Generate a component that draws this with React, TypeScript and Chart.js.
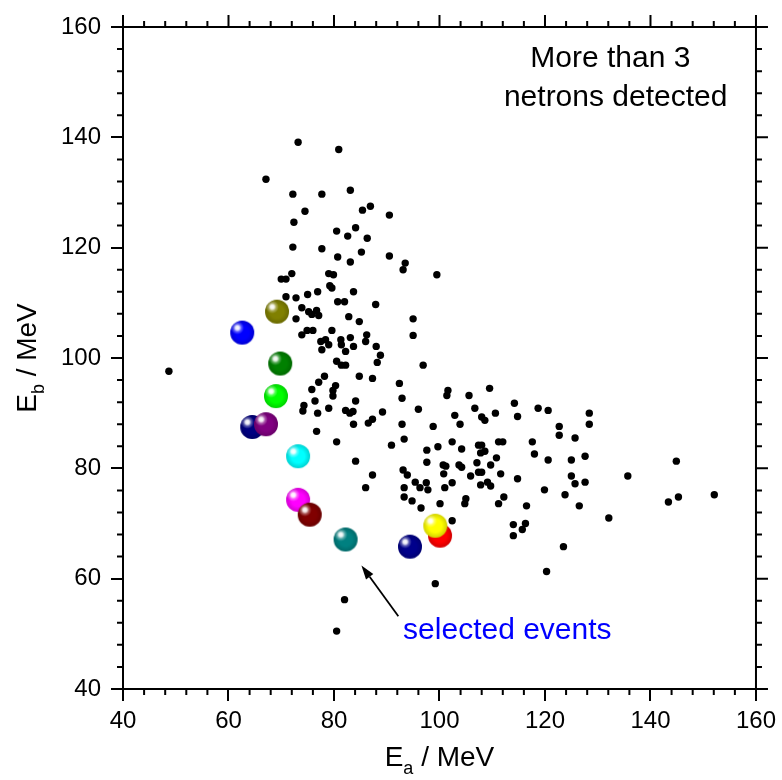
import React, { useEffect, useRef } from "react";
import { Chart, registerables } from "chart.js";

Chart.register(...registerables);

const FONT = "'Liberation Sans', Arial, Helvetica, sans-serif";

// Axis range / ticks (MeV)
const axisMin = 40;
const axisMax = 160;
const majorStep = 20;
const minorStep = 4;

// Black dots: events with more than 3 neutrons detected
const eventEa = [
  73.2, 80.9, 67.1, 72.2, 77.7, 83.1, 74.5, 85.4, 86.9, 90.5,
  72.4, 80.5, 84.1, 82.6, 86.3, 72.2, 77.7, 80.7, 85.2, 83.1,
  90.5, 93.5, 93.1, 72.0, 70.0, 70.9, 79.0, 79.9, 79.2, 79.6,
  70.9, 72.8, 75.0, 76.9, 83.7, 80.7, 82.0, 87.9, 73.9, 75.2,
  76.7, 75.8, 77.1, 72.8, 82.8, 95.0, 84.8, 73.9, 74.9, 76.0,
  79.6, 95.0, 86.2, 77.5, 78.4, 79.0, 77.7, 81.3, 81.4, 83.1,
  86.0, 83.7, 88.0, 82.2, 88.8, 88.2, 80.5, 81.4, 82.2, 96.9,
  78.2, 84.8, 87.3, 77.1, 92.4, 75.8, 80.3, 79.8, 79.8, 92.9,
  76.4, 74.3, 74.1, 76.9, 79.0, 84.1, 82.2, 83.0, 89.2, 96.0,
  83.7, 86.5, 87.3, 92.9, 76.7, 80.5, 90.9, 93.3, 97.6, 84.1,
  93.1, 93.9, 87.3, 97.6, 86.0, 93.3, 95.4, 96.3, 97.5, 101.6,
  101.4, 105.6, 109.5, 114.2, 114.8, 118.7, 120.6, 106.7, 110.6, 102.9,
  108.0, 108.6, 103.9, 98.8, 122.7, 122.7, 125.7, 102.4, 104.2, 99.7,
  107.4, 108.0, 111.2, 112.0, 117.6, 118.0, 107.8, 108.6, 110.8, 120.6,
  125.0, 100.7, 101.2, 103.7, 104.2, 107.1, 109.7, 100.8, 107.4, 108.0,
  111.6, 105.9, 114.8, 125.0, 125.7, 97.8, 102.4, 101.0, 107.8, 109.1,
  109.7, 93.3, 94.8, 96.5, 100.1, 105.0, 104.8, 111.2, 112.2, 119.9,
  123.8, 116.5, 102.4, 114.0, 116.3, 115.7, 114.0, 123.5, 120.3, 99.2,
  128.4, 128.4, 127.6, 127.6, 126.5, 132.1, 135.7, 144.9, 143.4, 145.3,
  152.1, 82.0, 80.5, 48.7, 99.5, 83.6
];
const eventEb = [
  139.1, 137.8, 132.4, 129.7, 129.7, 130.4, 126.6, 126.8, 127.5, 125.9,
  124.6, 123.0, 123.6, 122.1, 121.7, 120.1, 119.8, 118.3, 119.2, 117.4,
  118.5, 117.2, 116.0, 115.3, 114.3, 114.3, 115.3, 115.1, 113.1, 112.7,
  111.1, 110.9, 111.5, 112.0, 112.0, 110.2, 110.2, 109.7, 109.1, 108.4,
  108.6, 107.9, 107.7, 107.1, 107.5, 107.1, 106.6, 104.2, 105.0, 105.0,
  105.0, 104.1, 104.2, 103.0, 103.3, 102.4, 101.5, 103.3, 102.4, 103.7,
  103.0, 102.1, 102.1, 101.2, 100.5, 99.2, 99.4, 98.7, 98.7, 98.7,
  96.7, 96.7, 96.3, 95.6, 95.4, 94.3, 95.0, 94.1, 93.1, 92.7,
  92.2, 91.4, 90.4, 90.0, 90.9, 92.2, 90.5, 90.0, 90.2, 90.7,
  88.0, 88.2, 88.9, 88.0, 86.7, 84.8, 84.2, 85.3, 83.3, 81.3,
  79.7, 78.8, 78.8, 81.1, 76.5, 76.5, 77.5, 76.5, 77.4, 94.1,
  93.2, 93.2, 94.5, 91.8, 89.4, 90.9, 90.5, 90.9, 90.0, 89.6,
  89.3, 88.7, 88.0, 87.6, 87.6, 86.0, 85.5, 84.8, 83.5, 83.9,
  84.2, 84.2, 84.8, 84.8, 84.8, 82.6, 82.8, 83.1, 81.9, 81.5,
  81.5, 80.6, 80.4, 80.6, 80.2, 81.0, 80.6, 79.0, 79.3, 79.3,
  79.0, 78.6, 78.1, 78.6, 77.2, 76.1, 77.4, 76.5, 77.0, 77.5,
  76.8, 74.8, 74.1, 72.8, 73.6, 74.5, 73.6, 73.6, 74.8, 76.1,
  75.2, 73.2, 70.5, 69.8, 70.0, 68.9, 67.8, 65.8, 61.3, 59.1,
  90.0, 88.0, 82.2, 77.5, 73.2, 71.0, 78.6, 81.3, 73.9, 74.8,
  75.2, 56.2, 50.5, 97.6, 115.1, 90.3
];

// Coloured spheres: the selected events (drawing order: later on top)
const selEa = [62.6, 69.2, 69.8, 69.0, 64.5, 67.1, 73.2, 73.2, 75.4, 82.2, 94.4, 100.1, 99.2];
const selEb = [104.6, 108.4, 99.0, 93.1, 87.5, 88.0, 82.2, 74.3, 71.6, 67.1, 65.8, 67.8, 69.6];
const selColors = [
  "#0000ff", "#808000", "#008000", "#00ff00", "#000080", "#800080", "#00ffff",
  "#ff00ff", "#800000", "#008080", "#00008b", "#ff0000", "#ffff00",
];

// Annotations
const noteLines = ["More than 3", "netrons detected"];
const noteCenterEa = [132.4, 133.4];
const noteBaselineEb = [152.8, 145.7];
const arrowLabel = "selected events";
const arrowLabelPos = [93.1, 49.0];
const arrowTail = [92.2, 53.2];
const arrowTip = [85.2, 62.4];

const xTitle = ["E", "a", " / MeV"];
const yTitle = ["E", "b", " / MeV"];

function makeBall(color: string, r: number): HTMLCanvasElement {
  const size = 2 * r + 2;
  const c = document.createElement("canvas");
  c.width = size;
  c.height = size;
  const g = c.getContext("2d")!;
  const cx = size / 2;
  const cy = size / 2;
  g.beginPath();
  g.arc(cx, cy, r, 0, Math.PI * 2);
  g.fillStyle = color;
  g.fill();
  const rim = g.createRadialGradient(cx, cy, r * 0.55, cx, cy, r);
  rim.addColorStop(0, "rgba(0,0,0,0)");
  rim.addColorStop(1, "rgba(0,0,0,0.18)");
  g.fillStyle = rim;
  g.fill();
  const hx = cx - r * 0.4;
  const hy = cy - r * 0.4;
  const hl = g.createRadialGradient(hx, hy, 0, hx, hy, r * 0.55);
  hl.addColorStop(0, "rgba(255,255,255,1)");
  hl.addColorStop(0.3, "rgba(255,255,255,0.9)");
  hl.addColorStop(0.6, "rgba(255,255,255,0.35)");
  hl.addColorStop(1, "rgba(255,255,255,0)");
  g.fillStyle = hl;
  g.fill();
  return c;
}

function drawTitle(ctx: CanvasRenderingContext2D, parts: string[], size: number) {
  const main = `${size}px ${FONT}`;
  const sub = `${Math.round(size * 0.65)}px ${FONT}`;
  ctx.font = main;
  const w0 = ctx.measureText(parts[0]).width;
  const w2 = ctx.measureText(parts[2]).width;
  ctx.font = sub;
  const w1 = ctx.measureText(parts[1]).width;
  const total = w0 + w1 + w2;
  let x = -total / 2;
  ctx.textAlign = "left";
  ctx.textBaseline = "alphabetic";
  ctx.font = main;
  ctx.fillText(parts[0], x, 0);
  x += w0;
  ctx.font = sub;
  ctx.fillText(parts[1], x, size * 0.3);
  x += w1;
  ctx.font = main;
  ctx.fillText(parts[2], x, 0);
}

const decorPlugin = {
  id: "decor",
  afterDraw(chart: any) {
    const { ctx, chartArea: a, scales } = chart;
    const xs = scales.x;
    const ys = scales.y;
    ctx.save();
    ctx.strokeStyle = "#000";
    ctx.lineWidth = 2;
    ctx.beginPath();
    ctx.moveTo(a.left - 1, a.top);
    ctx.lineTo(a.right, a.top);
    ctx.lineTo(a.right, a.bottom + 1);
    ctx.stroke();
    for (let v = axisMin; v <= axisMax + 1e-9; v += minorStep) {
      const major = Math.abs((v - axisMin) % majorStep) < 1e-9;
      const L = major ? 12 : 6;
      const px = xs.getPixelForValue(v);
      const py = ys.getPixelForValue(v);
      ctx.beginPath();
      ctx.moveTo(px, a.top);
      ctx.lineTo(px, a.top - L);
      ctx.moveTo(a.right, py);
      ctx.lineTo(a.right + L, py);
      if (!major) {
        ctx.moveTo(px, a.bottom);
        ctx.lineTo(px, a.bottom + L);
        ctx.moveTo(a.left, py);
        ctx.lineTo(a.left - L, py);
      }
      ctx.stroke();
    }

    // axis titles
    ctx.fillStyle = "#000";
    ctx.save();
    ctx.translate((a.left + a.right) / 2, 766);
    drawTitle(ctx, xTitle, 28);
    ctx.restore();
    ctx.save();
    ctx.translate(36, (a.top + a.bottom) / 2);
    ctx.rotate(-Math.PI / 2);
    drawTitle(ctx, yTitle, 28);
    ctx.restore();

    // note text
    ctx.font = `30px ${FONT}`;
    ctx.textAlign = "center";
    ctx.textBaseline = "alphabetic";
    noteLines.forEach((t, i) => {
      ctx.fillText(t, xs.getPixelForValue(noteCenterEa[i]), ys.getPixelForValue(noteBaselineEb[i]));
    });

    // arrow + label
    const tx = xs.getPixelForValue(arrowTail[0]);
    const ty = ys.getPixelForValue(arrowTail[1]);
    const hx = xs.getPixelForValue(arrowTip[0]);
    const hy = ys.getPixelForValue(arrowTip[1]);
    const ang = Math.atan2(hy - ty, hx - tx);
    const hl = 14;
    const hw = 4.5;
    const bx = hx - hl * Math.cos(ang);
    const by = hy - hl * Math.sin(ang);
    ctx.lineWidth = 1.8;
    ctx.beginPath();
    ctx.moveTo(tx, ty);
    ctx.lineTo(bx, by);
    ctx.stroke();
    ctx.beginPath();
    ctx.moveTo(hx, hy);
    ctx.lineTo(bx + hw * Math.sin(ang), by - hw * Math.cos(ang));
    ctx.lineTo(bx - hw * Math.sin(ang), by + hw * Math.cos(ang));
    ctx.closePath();
    ctx.fill();

    ctx.fillStyle = "#0000ff";
    ctx.textAlign = "left";
    ctx.fillText(arrowLabel, xs.getPixelForValue(arrowLabelPos[0]), ys.getPixelForValue(arrowLabelPos[1]));
    ctx.restore();
  },
};

export default function App() {
  const ref = useRef<HTMLCanvasElement | null>(null);

  useEffect(() => {
    if (!ref.current) return;
    const balls = selColors.map((c) => makeBall(c, 12));
    const tickFont = { family: FONT, size: 24 };
    const chart = new Chart(ref.current, {
      type: "scatter",
      data: {
        datasets: [
          {
            label: "selected",
            data: selEa.map((x, i) => ({ x, y: selEb[i] })),
            pointStyle: balls as any,
            pointRadius: 12,
            borderWidth: 0,
          },
          {
            label: "events",
            data: eventEa.map((x, i) => ({ x, y: eventEb[i] })),
            pointStyle: "circle",
            pointRadius: 3.7,
            backgroundColor: "#000",
            borderColor: "#000",
            borderWidth: 0,
          },
        ],
      },
      options: {
        animation: false,
        responsive: false,
        devicePixelRatio: 1,
        layout: { padding: { top: 27, right: 22, left: 0, bottom: 0 } },
        plugins: { legend: { display: false }, tooltip: { enabled: false } },
        scales: {
          x: {
            type: "linear",
            min: axisMin,
            max: axisMax,
            ticks: { stepSize: majorStep, font: tickFont, color: "#000", padding: 6, maxRotation: 0 },
            grid: { drawOnChartArea: false, drawTicks: true, tickLength: 12, color: "#000", lineWidth: 2 },
            border: { display: true, color: "#000", width: 2 },
            afterFit: (s: any) => {
              s.height = 91;
            },
          },
          y: {
            type: "linear",
            min: axisMin,
            max: axisMax,
            ticks: { stepSize: majorStep, font: tickFont, color: "#000", padding: 10 },
            grid: { drawOnChartArea: false, drawTicks: true, tickLength: 12, color: "#000", lineWidth: 2 },
            border: { display: true, color: "#000", width: 2 },
            afterFit: (s: any) => {
              s.width = 123;
            },
          },
        },
      },
      plugins: [decorPlugin],
    });
    return () => chart.destroy();
  }, []);

  return (
    <div style={{ position: "absolute", left: 0, top: 0, width: 782, height: 780, background: "#fff" }}>
      <canvas ref={ref} width={782} height={780} />
    </div>
  );
}
